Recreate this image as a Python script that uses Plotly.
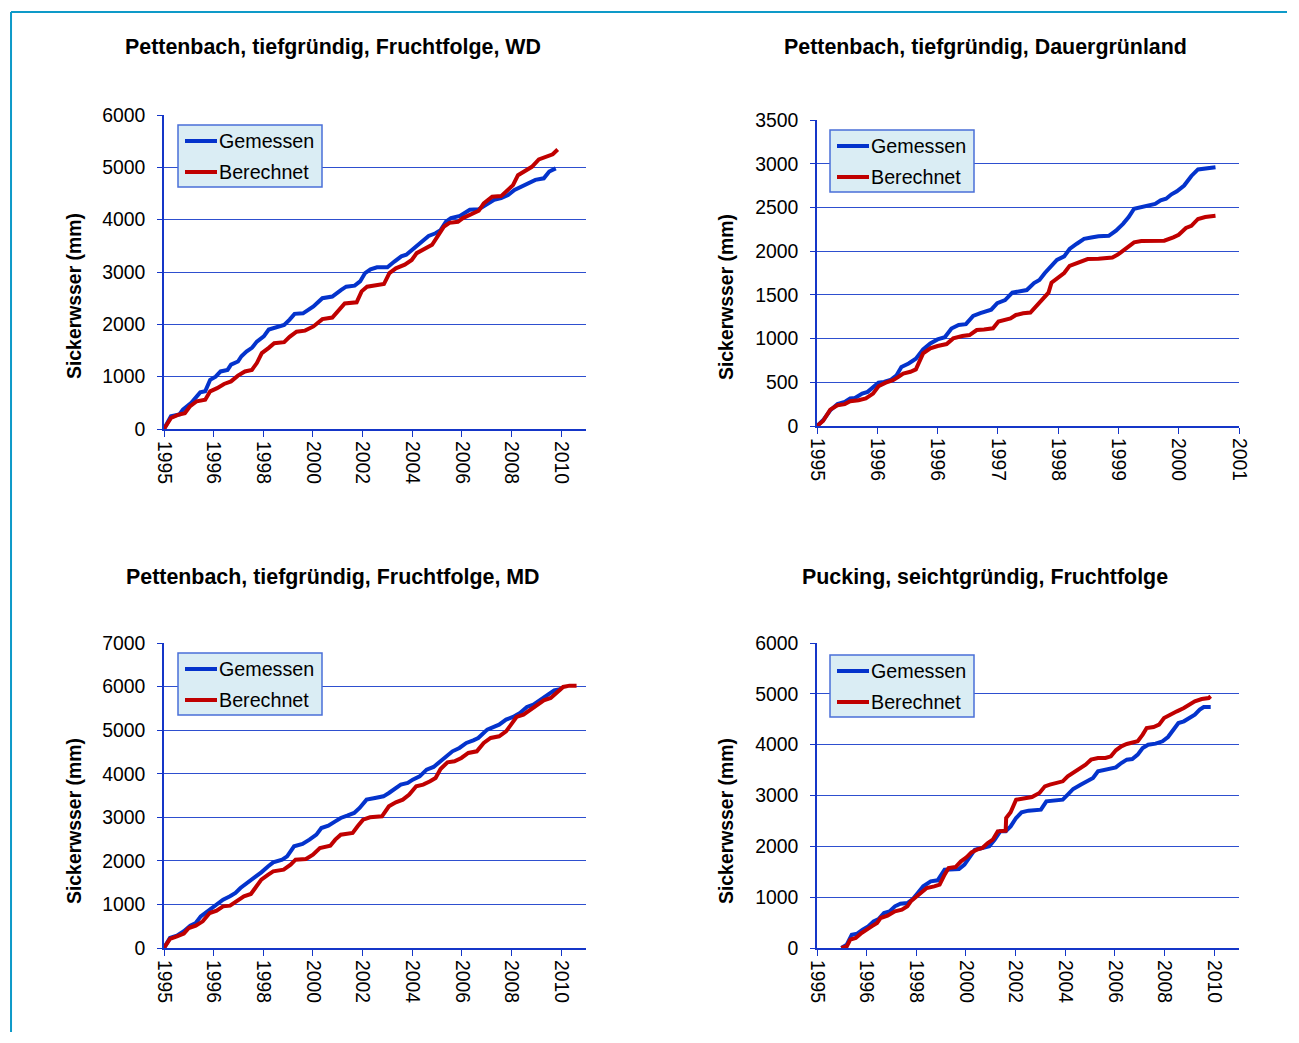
import plotly.graph_objects as go

W, H = 1299, 1043
# layout positions below are given in sheet pixels; the sheet is drawn
# with an 11px inset so these helpers map sheet pixels to paper coords
INSET = 11
SX = (W - 2 * INSET) / W
SY = (H - 2 * INSET) / H

# ---- data -------------------------------------------------------------
# x positions are expressed in axis-label units (label i sits at x = i)
ticks_long = ["1995", "1996", "1998", "2000", "2002", "2004", "2006", "2008", "2010"]
ticks_grl = ["1995", "1996", "1996", "1997", "1998", "1999", "2000", "2001"]

# Pettenbach, tiefgründig, Fruchtfolge, WD
wd_gem_x = [0.00, 0.14, 0.31, 0.38, 0.55, 0.73, 0.83, 0.93, 1.04, 1.14, 1.28, 1.35, 1.49, 1.56, 1.66,
            1.77, 1.87, 2.01, 2.11, 2.25, 2.42, 2.53, 2.63, 2.80, 3.01, 3.19, 3.39, 3.57, 3.67, 3.84,
            3.95, 4.05, 4.16, 4.29, 4.50, 4.64, 4.78, 4.88, 5.02, 5.16, 5.33, 5.47, 5.57, 5.68, 5.78,
            5.96, 6.06, 6.16, 6.34, 6.48, 6.65, 6.79, 6.93, 7.06, 7.20, 7.34, 7.48, 7.65, 7.76, 7.89]
wd_gem_y = [0, 242, 280, 370, 500, 700, 720, 940, 1000, 1100, 1130, 1230, 1290, 1390, 1480,
            1550, 1670, 1770, 1900, 1940, 1990, 2090, 2200, 2210, 2340, 2500, 2530, 2660, 2720, 2740,
            2820, 2980, 3050, 3090, 3090, 3200, 3300, 3330, 3440, 3550, 3690, 3740, 3800, 3960, 4030,
            4070, 4120, 4190, 4200, 4280, 4380, 4410, 4470, 4570, 4640, 4690, 4760, 4790, 4920, 4980]
wd_ber_x = [0.00, 0.14, 0.28, 0.42, 0.52, 0.66, 0.83, 0.93, 1.07, 1.21, 1.35, 1.49, 1.63, 1.77, 1.87,
            1.97, 2.11, 2.22, 2.42, 2.53, 2.67, 2.84, 3.01, 3.19, 3.39, 3.50, 3.64, 3.88, 3.98, 4.09,
            4.26, 4.43, 4.54, 4.67, 4.85, 4.99, 5.09, 5.26, 5.40, 5.51, 5.64, 5.75, 5.92, 6.02, 6.20,
            6.34, 6.44, 6.61, 6.79, 6.89, 7.03, 7.13, 7.27, 7.41, 7.55, 7.69, 7.83, 7.93]
wd_ber_y = [0, 210, 270, 300, 430, 530, 560, 720, 780, 860, 910, 1020, 1100, 1130, 1260,
            1450, 1550, 1640, 1660, 1760, 1860, 1880, 1960, 2100, 2130, 2260, 2400, 2420, 2630, 2720,
            2750, 2770, 2980, 3070, 3140, 3230, 3360, 3440, 3520, 3680, 3870, 3940, 3960, 4030, 4120,
            4170, 4310, 4440, 4450, 4540, 4660, 4850, 4920, 5010, 5150, 5210, 5250, 5340]

# Pettenbach, tiefgründig, Dauergrünland
gr_gem_x = [0.00, 0.10, 0.22, 0.34, 0.46, 0.55, 0.63, 0.75, 0.84, 0.93, 1.02, 1.11, 1.23, 1.32, 1.40,
            1.52, 1.64, 1.76, 1.88, 2.00, 2.12, 2.23, 2.35, 2.47, 2.59, 2.71, 2.89, 2.99, 3.12, 3.24,
            3.36, 3.48, 3.60, 3.69, 3.78, 3.89, 3.98, 4.10, 4.19, 4.31, 4.43, 4.55, 4.67, 4.84, 4.96,
            5.08, 5.17, 5.26, 5.38, 5.49, 5.61, 5.70, 5.79, 5.88, 5.97, 6.09, 6.21, 6.32, 6.44, 6.61]
gr_gem_y = [0, 65, 180, 250, 275, 315, 320, 370, 390, 450, 495, 505, 530, 580, 675,
            715, 770, 875, 945, 990, 1015, 1115, 1155, 1165, 1260, 1290, 1330, 1405, 1440, 1525,
            1545, 1555, 1635, 1670, 1750, 1825, 1900, 1940, 2025, 2085, 2140, 2155, 2170, 2175, 2235,
            2315, 2390, 2485, 2500, 2515, 2540, 2580, 2600, 2650, 2685, 2750, 2860, 2935, 2945, 2960]
gr_ber_x = [0.00, 0.10, 0.22, 0.34, 0.46, 0.55, 0.69, 0.81, 0.93, 1.02, 1.14, 1.26, 1.35, 1.43, 1.55,
            1.64, 1.76, 1.88, 2.00, 2.15, 2.26, 2.41, 2.53, 2.65, 2.77, 2.92, 3.01, 3.12, 3.21, 3.30,
            3.42, 3.54, 3.66, 3.78, 3.84, 3.89, 4.01, 4.10, 4.19, 4.31, 4.40, 4.49, 4.67, 4.90, 4.99,
            5.14, 5.26, 5.38, 5.55, 5.76, 5.91, 6.00, 6.12, 6.21, 6.32, 6.44, 6.61]
gr_ber_y = [0, 57, 187, 237, 250, 283, 295, 315, 370, 455, 495, 525, 562, 600, 620,
            647, 830, 888, 915, 937, 1002, 1030, 1040, 1098, 1105, 1117, 1195, 1213, 1230, 1270,
            1290, 1297, 1385, 1480, 1525, 1640, 1710, 1750, 1832, 1863, 1893, 1910, 1913, 1928, 1960,
            2035, 2100, 2115, 2120, 2120, 2158, 2188, 2265, 2290, 2368, 2390, 2405]

# Pettenbach, tiefgründig, Fruchtfolge, MD
md_gem_x = [0.00, 0.12, 0.26, 0.40, 0.53, 0.64, 0.74, 0.88, 0.99, 1.09, 1.19, 1.33, 1.44, 1.54, 1.68,
            1.82, 1.96, 2.10, 2.20, 2.38, 2.48, 2.62, 2.79, 2.93, 3.07, 3.17, 3.31, 3.45, 3.56, 3.69,
            3.83, 3.94, 4.08, 4.25, 4.42, 4.53, 4.67, 4.77, 4.91, 5.01, 5.15, 5.29, 5.43, 5.53, 5.67,
            5.81, 5.95, 6.09, 6.23, 6.33, 6.51, 6.65, 6.75, 6.89, 7.03, 7.17, 7.31, 7.44, 7.58, 7.72,
            7.86, 8.00]
md_gem_y = [0, 230, 283, 383, 513, 574, 727, 842, 956, 1010, 1109, 1186, 1262, 1377, 1492,
            1607, 1737, 1875, 1966, 2028, 2104, 2334, 2387, 2487, 2601, 2754, 2808, 2907, 2984, 3037,
            3099, 3214, 3405, 3443, 3481, 3558, 3673, 3749, 3787, 3864, 3940, 4093, 4155, 4246, 4400,
            4514, 4591, 4706, 4767, 4820, 5011, 5073, 5126, 5241, 5302, 5394, 5532, 5585, 5700, 5815,
            5914, 5945]
md_ber_x = [0.00, 0.12, 0.26, 0.40, 0.50, 0.64, 0.78, 0.92, 1.06, 1.19, 1.33, 1.47, 1.61, 1.75, 1.85,
            1.96, 2.10, 2.20, 2.41, 2.55, 2.65, 2.86, 3.00, 3.14, 3.35, 3.45, 3.56, 3.80, 3.90, 4.01,
            4.15, 4.39, 4.53, 4.67, 4.81, 4.94, 5.08, 5.22, 5.36, 5.47, 5.57, 5.71, 5.85, 5.99, 6.13,
            6.30, 6.44, 6.58, 6.75, 6.89, 6.99, 7.10, 7.24, 7.38, 7.51, 7.65, 7.79, 7.90, 8.04, 8.17,
            8.31]
md_ber_y = [0, 207, 268, 329, 459, 513, 612, 803, 857, 956, 972, 1071, 1186, 1239, 1415,
            1568, 1683, 1760, 1798, 1913, 2028, 2043, 2142, 2295, 2349, 2487, 2601, 2640, 2793, 2946,
            2999, 3022, 3252, 3343, 3405, 3520, 3711, 3749, 3826, 3902, 4109, 4262, 4285, 4361, 4476,
            4514, 4706, 4820, 4858, 4973, 5126, 5302, 5356, 5471, 5585, 5685, 5738, 5853, 5991, 6021,
            6021]

# Pucking, seichtgründig, Fruchtfolge
pu_gem_x = [0.49, 0.60, 0.70, 0.81, 0.92, 1.03, 1.14, 1.24, 1.35, 1.46, 1.57, 1.68, 1.82, 1.93, 2.03,
            2.14, 2.29, 2.43, 2.57, 2.72, 2.86, 2.97, 3.08, 3.18, 3.33, 3.47, 3.58, 3.69, 3.80, 3.90,
            4.01, 4.12, 4.26, 4.44, 4.51, 4.62, 4.80, 4.95, 5.05, 5.16, 5.31, 5.45, 5.56, 5.66, 5.81,
            5.92, 6.02, 6.13, 6.24, 6.35, 6.46, 6.56, 6.67, 6.82, 6.96, 7.07, 7.17, 7.28, 7.39, 7.50,
            7.61, 7.71, 7.79, 7.93]
pu_gem_y = [0, 66, 262, 282, 361, 426, 525, 570, 689, 721, 820, 872, 885, 964, 1082,
            1213, 1311, 1331, 1541, 1554, 1554, 1639, 1803, 1934, 1967, 2000, 2131, 2295, 2295, 2393,
            2557, 2669, 2702, 2702, 2721, 2885, 2898, 2918, 3016, 3128, 3213, 3279, 3344, 3475, 3508,
            3541, 3554, 3639, 3705, 3718, 3803, 3934, 4000, 4020, 4066, 4151, 4295, 4426, 4459, 4525,
            4590, 4689, 4741, 4741]
pu_ber_x = [0.49, 0.60, 0.67, 0.78, 0.88, 0.99, 1.10, 1.21, 1.28, 1.42, 1.57, 1.71, 1.82, 1.89, 2.00,
            2.11, 2.21, 2.36, 2.47, 2.57, 2.65, 2.79, 2.90, 3.01, 3.11, 3.22, 3.33, 3.44, 3.54, 3.64,
            3.80, 3.81, 3.90, 4.01, 4.16, 4.33, 4.48, 4.59, 4.69, 4.84, 4.95, 5.05, 5.16, 5.31, 5.41,
            5.52, 5.66, 5.81, 5.92, 6.02, 6.13, 6.24, 6.35, 6.46, 6.56, 6.64, 6.78, 6.89, 6.99, 7.10,
            7.25, 7.39, 7.50, 7.61, 7.75, 7.89, 7.93]
pu_ber_y = [0, 33, 164, 197, 282, 361, 426, 492, 590, 636, 721, 754, 820, 918, 1016,
            1115, 1180, 1213, 1246, 1443, 1574, 1593, 1705, 1784, 1882, 1934, 1967, 2066, 2131, 2295,
            2308, 2557, 2669, 2918, 2951, 2970, 3049, 3180, 3213, 3246, 3279, 3377, 3443, 3541, 3607,
            3705, 3738, 3738, 3770, 3889, 3967, 4013, 4033, 4066, 4197, 4328, 4348, 4393, 4525, 4590,
            4656, 4721, 4787, 4852, 4898, 4918, 4951]

series_names = ["Gemessen", "Berechnet"]

# ---- styling ----------------------------------------------------------
BLUE = "#0433CC"
RED = "#C00000"
GRID = "#2E4FCF"
AXIS = "#1536C8"
FONT = "Liberation Sans, Arial, sans-serif"
TICK_SIZE = 19.4
LEG_SIZE = 19.7
TITLE_SIZE = 21.4
YTITLE_SIZE = 19.4


def px(x):
    """sheet pixel column -> paper x"""
    return (x - INSET) / (W - 2 * INSET)


def py(y):
    """sheet pixel row -> paper y"""
    return 1 - (y - INSET) / (H - 2 * INSET)


panels = [
    dict(title="Pettenbach, tiefgründig, Fruchtfolge, WD", gx=wd_gem_x, gy=wd_gem_y, bx=wd_ber_x, by=wd_ber_y,
         tt=ticks_long, xmax=8.5, ymax=6000, dy=1000, box=(165, 587, 115, 429), tpos=(334, 47),
         ytpos=(75, 296), leg=(179, 125)),
    dict(title="Pettenbach, tiefgründig, Dauergrünland", gx=gr_gem_x, gy=gr_gem_y, bx=gr_ber_x, by=gr_ber_y,
         tt=ticks_grl, xmax=7, ymax=3500, dy=500, box=(818, 1240, 120, 426), tpos=(986, 47),
         ytpos=(727, 297), leg=(831, 130)),
    dict(title="Pettenbach, tiefgründig, Fruchtfolge, MD", gx=md_gem_x, gy=md_gem_y, bx=md_ber_x, by=md_ber_y,
         tt=ticks_long, xmax=8.5, ymax=7000, dy=1000, box=(165, 587, 643, 948), tpos=(334, 577),
         ytpos=(75, 821), leg=(179, 653)),
    dict(title="Pucking, seichtgründig, Fruchtfolge", gx=pu_gem_x, gy=pu_gem_y, bx=pu_ber_x, by=pu_ber_y,
         tt=ticks_long, xmax=8.5, ymax=6000, dy=1000, box=(818, 1240, 643, 948), tpos=(986, 577),
         ytpos=(727, 821), leg=(831, 655)),
]

fig = go.Figure()
layout = dict(
    width=W, height=H, margin=dict(l=0, r=0, t=0, b=0),
    paper_bgcolor="white", plot_bgcolor="white",
    font=dict(family=FONT, size=TICK_SIZE, color="black"),
    showlegend=False, annotations=[], shapes=[],
)

for i, p in enumerate(panels, start=1):
    sfx = "" if i == 1 else str(i)
    xa, ya = f"x{sfx}", f"y{sfx}"
    fig.add_trace(go.Scatter(x=p["gx"], y=p["gy"], mode="lines", name=series_names[0],
                             line=dict(color=BLUE, width=4), xaxis=xa, yaxis=ya))
    fig.add_trace(go.Scatter(x=p["bx"], y=p["by"], mode="lines", name=series_names[1],
                             line=dict(color=RED, width=4), xaxis=xa, yaxis=ya))
    l, r, t, b = p["box"]
    layout[f"xaxis{sfx}"] = dict(
        domain=[px(l), px(r)], anchor=ya, range=[0, p["xmax"]],
        tickvals=list(range(len(p["tt"]))), ticktext=p["tt"], tickangle=90,
        showgrid=False, zeroline=False, showline=True, linecolor=AXIS, linewidth=2,
        ticks="outside", ticklen=6, tickcolor=AXIS, tickwidth=1,
        tickfont=dict(size=TICK_SIZE, color="black"), ticklabelstandoff=0, fixedrange=True,
    )
    layout[f"yaxis{sfx}"] = dict(
        domain=[py(b), py(t)], anchor=xa, range=[0, p["ymax"]], dtick=p["dy"],
        showgrid=True, gridcolor=GRID, gridwidth=1, zeroline=False,
        showline=True, linecolor=AXIS, linewidth=1.5,
        ticks="outside", ticklen=5, tickcolor=AXIS, tickwidth=1,
        tickfont=dict(size=TICK_SIZE, color="black"), ticklabelstandoff=8, fixedrange=True,
    )

    # legend box: framed panel with a line sample and label per series
    lx, ly = p["leg"]
    layout["shapes"].append(dict(
        type="rect", xref="paper", yref="paper", x0=px(lx), x1=px(lx + 144), y0=py(ly), y1=py(ly + 62),
        fillcolor="#DAEDF4", line=dict(color="#4A6FD8", width=1.5), layer="above"))
    for k, (name, col) in enumerate(zip(series_names, [BLUE, RED])):
        ry = ly + 16 + 31 * k
        layout["shapes"].append(dict(
            type="line", xref="paper", yref="paper", x0=px(lx + 7), x1=px(lx + 39), y0=py(ry), y1=py(ry),
            line=dict(color=col, width=4), layer="above"))
        layout["annotations"].append(dict(
            text=name, x=px(lx + 39), y=py(ry), xref="paper", yref="paper",
            xanchor="left", yanchor="middle", showarrow=False,
            font=dict(family=FONT, size=LEG_SIZE, color="black")))

    tx, ty = p["tpos"]
    layout["annotations"].append(dict(
        text=f"<b>{p['title']}</b>", x=px(tx), y=py(ty), xref="paper", yref="paper",
        xanchor="center", yanchor="middle", showarrow=False,
        font=dict(family=FONT, size=TITLE_SIZE, color="black")))
    yx, yy = p["ytpos"]
    layout["annotations"].append(dict(
        text="<b>Sickerwsser (mm)</b>", x=px(yx), y=py(yy), xref="paper", yref="paper",
        xanchor="center", yanchor="middle", textangle=-90, showarrow=False,
        font=dict(family=FONT, size=YTITLE_SIZE, color="black")))

# frame around the chart sheet (top and left edges)
layout["shapes"] += [
    dict(type="line", xref="paper", yref="paper", x0=0.0008, x1=1, y0=0.999, y1=0.999,
         line=dict(color="#0E9AC8", width=2)),
    dict(type="line", xref="paper", yref="paper", x0=0.0008, x1=0.0008, y0=0.999, y1=0,
         line=dict(color="#0E9AC8", width=2)),
]

fig.update_layout(**layout)
fig.write_html("out.html")
